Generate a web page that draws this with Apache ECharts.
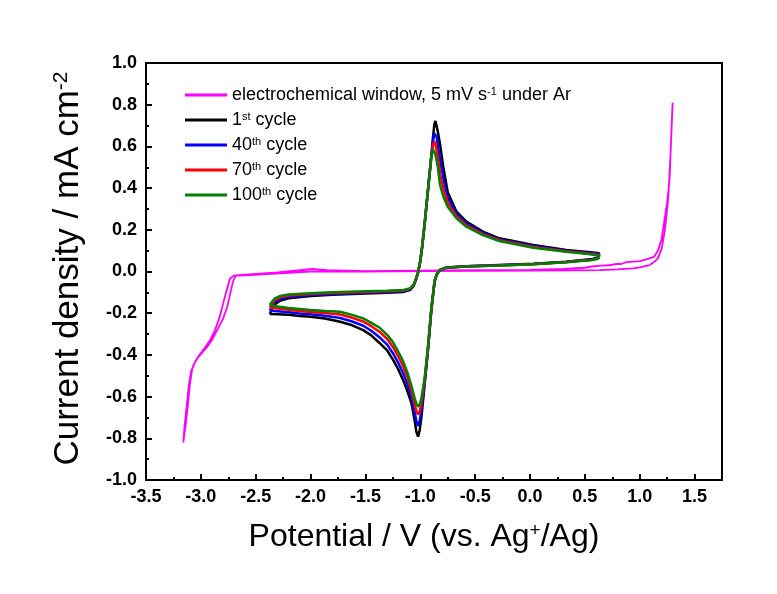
<!DOCTYPE html>
<html><head><meta charset="utf-8">
<script src="https://cdn.jsdelivr.net/npm/echarts@6/dist/echarts.min.js"></script>
<style>html,body{margin:0;padding:0;background:#fff}#c{width:777px;height:594px}</style>
</head><body><div id="c"></div>
<script>
// ---- data ----
const seriesNames = ['window', 'cycle1', 'cycle40', 'cycle70', 'cycle100'];
const legendLabels = {
  window: 'electrochemical window, 5 mV s{sup|-1} under Ar',
  cycle1: '1{sup|st} cycle',
  cycle40: '40{sup|th} cycle',
  cycle70: '70{sup|th} cycle',
  cycle100: '100{sup|th} cycle'
};
const seriesColors = ['#ff00ff', '#000000', '#0000ff', '#ff0000', '#008000'];

// electrochemical window (closed CV loop)
const ewX = [1.30,1.285,1.272,1.25,1.227,1.197,1.166,1.13,1.06,1.0,0.94,0.88,0.83,0.79,0.72,0.65,0.56,0.5,0.3,0.0,-0.5,-1.0,-1.5,-1.85,-1.98,-2.1,-2.3,-2.5,-2.65,-2.70,-2.735,-2.77,-2.80,-2.83,-2.87,-2.917,-2.97,-3.02,-3.05,-3.08,-3.10,-3.12,-3.14,-3.16,
  -3.15,-3.13,-3.11,-3.09,-3.06,-3.03,-2.99,-2.94,-2.90,-2.85,-2.80,-2.76,-2.73,-2.705,-2.68,-2.6,-2.4,-2.2,-2.0,-1.5,-1.0,-0.5,0.0,0.4,0.635,0.8,0.938,1.0,1.09,1.13,1.166,1.2,1.23,1.26,1.28,1.30];
const ewY = [0.81,0.62,0.44,0.33,0.25,0.15,0.10,0.07,0.058,0.05,0.047,0.045,0.036,0.036,0.03,0.028,0.024,0.018,0.012,0.008,0.006,0.004,0.002,0.006,0.013,0.006,-0.004,-0.011,-0.017,-0.02,-0.035,-0.10,-0.16,-0.22,-0.28,-0.33,-0.37,-0.405,-0.43,-0.47,-0.54,-0.65,-0.74,-0.82,
  -0.75,-0.65,-0.55,-0.48,-0.44,-0.415,-0.39,-0.36,-0.33,-0.28,-0.23,-0.17,-0.10,-0.045,-0.02,-0.018,-0.012,-0.006,0.0,0.0,0.002,0.003,0.004,0.005,0.007,0.01,0.015,0.02,0.031,0.045,0.063,0.11,0.2,0.35,0.55,0.81];

// CV cycles: potentials (anodic sweep then cathodic sweep)
const cvX = [-2.372,-2.33,-2.28,-2.2,-2.0,-1.8,-1.5,-1.3,-1.15,-1.09,-1.06,-1.04,-1.02,-1.0,-0.985,-0.96,-0.93,-0.90,-0.885,-0.872,-0.862,-0.852,-0.84,-0.82,-0.79,-0.75,-0.67,-0.58,-0.43,-0.28,0.03,0.33,0.55,0.63,
  0.625,0.57,0.33,0.03,-0.28,-0.58,-0.76,-0.82,-0.85,-0.87,-0.90,-0.93,-0.96,-0.99,-1.005,-1.02,-1.035,-1.05,-1.08,-1.12,-1.157,-1.2,-1.248,-1.3,-1.369,-1.45,-1.52,-1.62,-1.73,-1.87,-2.0,-2.1,-2.2,-2.3,-2.372];
const yCycle1 = [-0.204,-0.16,-0.14,-0.128,-0.118,-0.112,-0.106,-0.102,-0.098,-0.088,-0.068,-0.04,-0.005,0.05,0.11,0.23,0.39,0.55,0.64,0.705,0.722,0.70,0.67,0.61,0.50,0.38,0.287,0.239,0.191,0.159,0.127,0.103,0.092,0.087,
  0.068,0.060,0.047,0.037,0.031,0.025,0.019,0.008,-0.015,-0.05,-0.19,-0.38,-0.54,-0.70,-0.76,-0.792,-0.77,-0.72,-0.632,-0.57,-0.52,-0.47,-0.424,-0.38,-0.344,-0.305,-0.281,-0.258,-0.241,-0.225,-0.217,-0.213,-0.208,-0.205,-0.204];
const yCycle40 = [-0.188,-0.149,-0.132,-0.121,-0.113,-0.108,-0.102,-0.098,-0.095,-0.085,-0.066,-0.039,-0.004,0.05,0.11,0.23,0.39,0.55,0.62,0.662,0.671,0.648,0.607,0.538,0.448,0.354,0.275,0.230,0.185,0.154,0.122,0.100,0.089,0.083,
  0.066,0.058,0.046,0.036,0.030,0.025,0.019,0.008,-0.014,-0.048,-0.186,-0.373,-0.529,-0.667,-0.715,-0.741,-0.72,-0.679,-0.602,-0.537,-0.487,-0.439,-0.393,-0.352,-0.317,-0.283,-0.260,-0.240,-0.223,-0.212,-0.205,-0.201,-0.196,-0.191,-0.188];
const yCycle70 = [-0.173,-0.138,-0.124,-0.115,-0.108,-0.103,-0.098,-0.095,-0.091,-0.082,-0.064,-0.037,-0.003,0.05,0.11,0.23,0.39,0.55,0.605,0.623,0.612,0.585,0.546,0.468,0.398,0.329,0.264,0.221,0.179,0.150,0.118,0.097,0.085,0.079,
  0.064,0.056,0.045,0.035,0.029,0.024,0.018,0.008,-0.013,-0.046,-0.183,-0.365,-0.518,-0.634,-0.671,-0.685,-0.671,-0.64,-0.572,-0.504,-0.454,-0.408,-0.363,-0.325,-0.29,-0.261,-0.24,-0.222,-0.206,-0.199,-0.194,-0.189,-0.184,-0.178,-0.173];
const yCycle100 = [-0.161,-0.13,-0.118,-0.11,-0.104,-0.100,-0.095,-0.092,-0.089,-0.080,-0.062,-0.036,-0.003,0.05,0.11,0.23,0.39,0.55,0.586,0.575,0.56,0.535,0.50,0.415,0.36,0.31,0.255,0.215,0.175,0.146,0.114,0.095,0.083,0.076,
  0.062,0.055,0.044,0.035,0.029,0.024,0.018,0.008,-0.013,-0.045,-0.18,-0.36,-0.51,-0.61,-0.638,-0.648,-0.635,-0.61,-0.55,-0.48,-0.43,-0.385,-0.34,-0.305,-0.27,-0.245,-0.225,-0.208,-0.193,-0.189,-0.185,-0.18,-0.175,-0.168,-0.161];

const xRange = [-3.5, 1.75];
const yRange = [-1.0, 1.0];
const xTitle = 'Potential / V (vs. Ag{sup|+}/Ag)';
const yTitle = 'Current density / mA cm{sup|-2}';

// ---- chart ----
const FONT = '"Liberation Sans", Arial, sans-serif';
function pairs(xs, ys) { return xs.map((x, i) => [x, ys[i]]); }
const seriesData = [pairs(ewX, ewY), pairs(cvX, yCycle1), pairs(cvX, yCycle40), pairs(cvX, yCycle70), pairs(cvX, yCycle100)];

const chart = echarts.init(document.getElementById('c'), null, {renderer: 'canvas'});
chart.setOption({
  animation: false,
  backgroundColor: '#ffffff',
  grid: {left: 146, right: 55, top: 63, bottom: 114, show: true, borderColor: '#000', borderWidth: 2, backgroundColor: '#fff'},
  legend: {
    orient: 'vertical', left: 180, top: 81, itemGap: 7, itemWidth: 42, itemHeight: 3,
    selectedMode: false, icon: 'rect',
    data: seriesNames,
    formatter: n => legendLabels[n],
    textStyle: {fontFamily: FONT, fontSize: 18, color: '#000',
      rich: {sup: {fontFamily: FONT, fontSize: 11, color: '#000', verticalAlign: 'top'}}}
  },
  xAxis: [{
    type: 'value', min: xRange[0], max: xRange[1], interval: 0.5,
    name: xTitle, nameLocation: 'middle', nameGap: 41,
    nameTextStyle: {fontFamily: FONT, fontSize: 32, color: '#000', padding: [0, 20, 0, 0],
      rich: {sup: {fontFamily: FONT, fontSize: 19, color: '#000', verticalAlign: 'top'}}},
    axisLine: {show: true, onZero: false, lineStyle: {color: '#000', width: 2}},
    axisTick: {show: true, inside: true, length: 6, lineStyle: {color: '#000', width: 2}},
    axisLabel: {margin: 8, interval: 0, fontFamily: FONT, fontSize: 18, fontWeight: 'bold', color: '#000',
      formatter: v => (Math.abs(v - 1.75) < 1e-6 ? '' : v.toFixed(1))},
    splitLine: {show: false}
  }, {
    type: 'value', min: xRange[0], max: xRange[1], interval: 0.25, position: 'bottom',
    axisLine: {show: false, onZero: false}, axisLabel: {show: false}, splitLine: {show: false},
    axisTick: {show: true, inside: true, length: 3, lineStyle: {color: '#000', width: 2}}
  }],
  yAxis: {
    type: 'value', min: yRange[0], max: yRange[1], interval: 0.2,
    name: yTitle, nameLocation: 'middle', nameGap: 60, nameRotate: 90,
    nameTextStyle: {fontFamily: FONT, fontSize: 35, color: '#000', padding: [0, 0, 0, 6],
      rich: {sup: {fontFamily: FONT, fontSize: 21, color: '#000', verticalAlign: 'top'}}},
    axisLine: {show: true, onZero: false, lineStyle: {color: '#000', width: 2}},
    axisTick: {show: true, inside: true, length: 6, lineStyle: {color: '#000', width: 2}},
    minorTick: {show: true, splitNumber: 2, length: 3, lineStyle: {color: '#000', width: 2}},
    axisLabel: {margin: 9, fontFamily: FONT, fontSize: 18, fontWeight: 'bold', color: '#000',
      formatter: v => v.toFixed(1)},
    splitLine: {show: false}, minorSplitLine: {show: false}
  },
  series: seriesNames.map((n, i) => ({
    name: n, type: 'line', xAxisIndex: 0, yAxisIndex: 0,
    data: seriesData[i], showSymbol: false, symbol: 'none',
    color: seriesColors[i],
    lineStyle: {color: seriesColors[i], width: i === 0 ? 1.8 : 2.5},
    itemStyle: {color: seriesColors[i]}
  }))
});
</script></body></html>
